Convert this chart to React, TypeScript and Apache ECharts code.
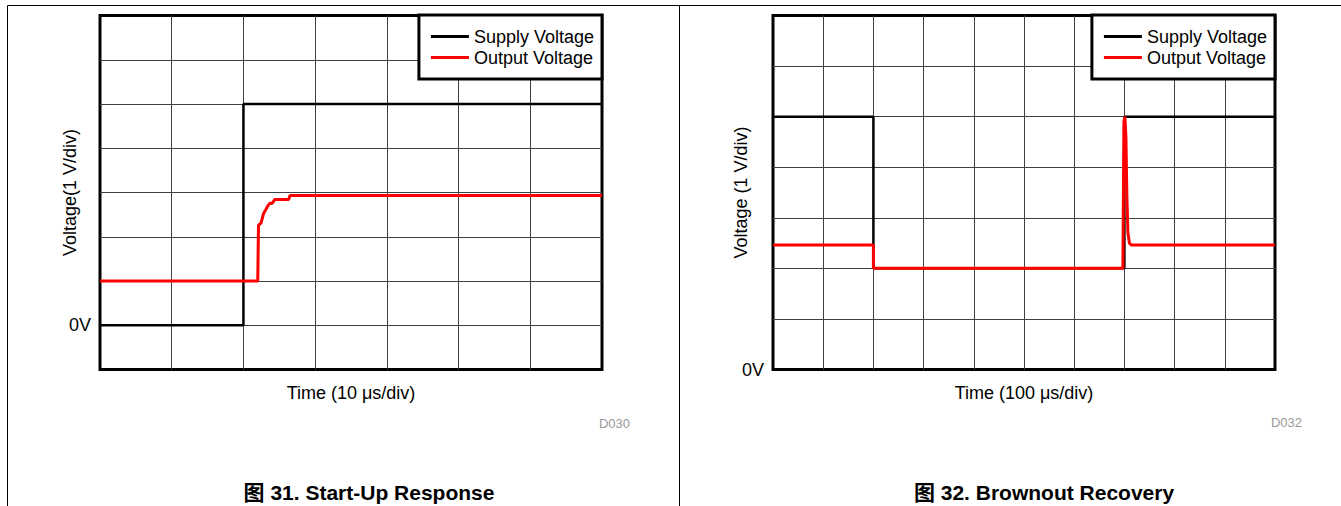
import React, { useEffect, useRef } from "react";
import * as echarts from "echarts";

// Start-up response (time in µs, voltage in V)
const startSupplyT = [0, 20, 20, 70];
const startSupplyV = [0, 0, 5, 5];
const startOutputT = [0, 22.0, 22.1, 22.45, 22.8, 23.15, 23.45, 23.7, 24.0, 24.35, 26.3, 26.5, 70];
const startOutputV = [1, 1, 2.26, 2.31, 2.52, 2.62, 2.71, 2.76, 2.75, 2.84, 2.84, 2.93, 2.93];

// Brownout recovery (time in µs, voltage in V)
const brownSupplyT = [0, 200, 200, 700, 700, 1000];
const brownSupplyV = [5, 5, 2, 2, 5, 5];
const brownOutputT = [0, 200, 200, 697, 699, 701, 703, 705, 707, 710, 714, 1000];
const brownOutputV = [2.46, 2.46, 2.0, 2.0, 4.9, 5.0, 4.6, 3.4, 2.7, 2.5, 2.46, 2.46];

const seriesNames = ["Supply Voltage", "Output Voltage"];
const captions = ["图 31. Start-Up Response", "图 32. Brownout Recovery"];
const docIds = ["D030", "D032"];

const FONT = '"Liberation Sans", Arial, sans-serif';
const CJK_FONT = '"Liberation Sans", Arial, "Noto Sans CJK SC", sans-serif';

const pairs = (t: number[], v: number[]) => t.map((x, i) => [x, v[i]]);

const gridLine = { show: true, showMinLine: false, showMaxLine: false, lineStyle: { color: "#404040", width: 1 } };

function xAxis(gridIndex: number, max: number, interval: number, name: string) {
  return {
    type: "value",
    gridIndex,
    min: 0,
    max,
    interval,
    name,
    nameLocation: "middle",
    nameGap: 14,
    nameMoveOverlap: false,
    nameTextStyle: { fontSize: 18, color: "#000", fontFamily: FONT },
    axisLine: { show: false },
    axisTick: { show: false },
    axisLabel: { show: false },
    splitLine: gridLine,
  };
}

function yAxis(gridIndex: number, min: number, max: number, name: string, nameGap: number) {
  return {
    type: "value",
    gridIndex,
    min,
    max,
    interval: 1,
    name,
    nameLocation: "middle",
    nameGap,
    nameMoveOverlap: false,
    nameTextStyle: { fontSize: 18, color: "#000", fontFamily: FONT },
    axisLine: { show: false },
    axisTick: { show: false },
    axisLabel: {
      show: true,
      margin: 9,
      fontSize: 18,
      color: "#000",
      fontFamily: FONT,
      formatter: (v: number) => (v === 0 ? "0V" : ""),
    },
    splitLine: gridLine,
  };
}

function legend(right: number) {
  return {
    right,
    top: 15,
    orient: "vertical",
    icon: "rect",
    itemWidth: 38,
    itemHeight: 3,
    itemGap: 0,
    padding: [11, 8, 11, 12],
    backgroundColor: "#fff",
    borderColor: "#000",
    borderWidth: 3,
    borderRadius: 0,
    selectedMode: false,
    textStyle: { fontSize: 18, lineHeight: 21, color: "#000", fontFamily: FONT },
    data: seriesNames,
    z: 10,
  };
}

function lineSeries(name: string, idx: number, data: number[][], color: string, width: number, z: number) {
  return {
    type: "line",
    name,
    xAxisIndex: idx,
    yAxisIndex: idx,
    data,
    showSymbol: false,
    symbol: "none",
    color,
    itemStyle: { color },
    lineStyle: { color, width },
    z,
  };
}

export default function App() {
  const ref = useRef<HTMLDivElement>(null);

  useEffect(() => {
    if (!ref.current) return;
    const chart = echarts.init(ref.current, undefined, { renderer: "svg" });
    chart.setOption({
      animation: false,
      backgroundColor: "#fff",
      grid: [
        { left: 100, top: 15.5, width: 502, height: 354, show: true, borderColor: "#000", borderWidth: 3, backgroundColor: "transparent" },
        { left: 773, top: 15.5, width: 502, height: 354, show: true, borderColor: "#000", borderWidth: 3, backgroundColor: "transparent" },
      ],
      xAxis: [xAxis(0, 70, 10, "Time (10 μs/div)"), xAxis(1, 1000, 100, "Time (100 μs/div)")],
      yAxis: [yAxis(0, -1, 7, "Voltage(1 V/div)", 21), yAxis(1, 0, 7, "Voltage (1 V/div)", 23)],
      legend: [legend(1341 - 602), legend(1341 - 1275)],
      series: [
        lineSeries(seriesNames[0], 0, pairs(startSupplyT, startSupplyV), "#000", 2.5, 3),
        lineSeries(seriesNames[1], 0, pairs(startOutputT, startOutputV), "#ff0000", 3, 4),
        lineSeries(seriesNames[0], 1, pairs(brownSupplyT, brownSupplyV), "#000", 2.5, 3),
        lineSeries(seriesNames[1], 1, pairs(brownOutputT, brownOutputV), "#ff0000", 3, 4),
      ],
      graphic: [
        { type: "line", shape: { x1: 7.5, y1: 5.5, x2: 1341, y2: 5.5 }, style: { stroke: "#000", lineWidth: 1 } },
        { type: "line", shape: { x1: 7.5, y1: 5.5, x2: 7.5, y2: 506 }, style: { stroke: "#000", lineWidth: 1 } },
        { type: "line", shape: { x1: 679.5, y1: 5.5, x2: 679.5, y2: 506 }, style: { stroke: "#000", lineWidth: 1 } },
        {
          type: "text", x: 630, y: 423,
          style: { text: docIds[0], fill: "#999", fontSize: 13, fontFamily: FONT, align: "right", verticalAlign: "middle" },
        },
        {
          type: "text", x: 1302, y: 422,
          style: { text: docIds[1], fill: "#999", fontSize: 13, fontFamily: FONT, align: "right", verticalAlign: "middle" },
        },
        {
          type: "text", x: 369, y: 492,
          style: { text: captions[0], fill: "#000", fontSize: 21, fontWeight: "bold", fontFamily: CJK_FONT, align: "center", verticalAlign: "middle" },
        },
        {
          type: "text", x: 1044, y: 492,
          style: { text: captions[1], fill: "#000", fontSize: 21, fontWeight: "bold", fontFamily: CJK_FONT, align: "center", verticalAlign: "middle" },
        },
      ],
    });
    return () => chart.dispose();
  }, []);

  return (
    <div
      ref={ref}
      style={{ position: "absolute", left: 0, top: 0, width: 1341, height: 506, background: "#fff" }}
    />
  );
}
